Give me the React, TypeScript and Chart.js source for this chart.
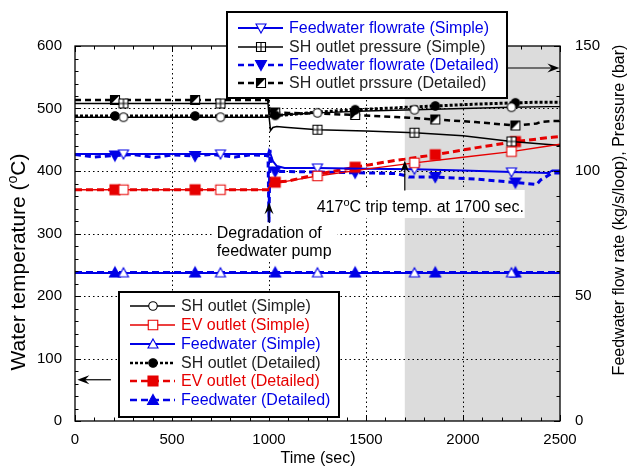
import React, { useEffect, useRef } from "react";
import { Chart, registerables } from "chart.js";

Chart.register(...registerables);

const FONT = '"Liberation Sans", Arial, Helvetica, sans-serif';
const BLUE = "#0000e6";
const RED = "#e60000";
const BLACK = "#000000";

// ---- axis ticks ----
const timeTicks = [0, 500, 1000, 1500, 2000, 2500];
const tempTicks = [0, 100, 200, 300, 400, 500, 600];
const rightTicks = [0, 50, 100, 150];
const shadeRange = [1700, 2500];

// ---- Simple model ----
const timeSimple = [0, 250, 500, 750, 995, 1000, 1008, 1020, 1040, 1080, 1250, 1500, 1750, 2000, 2250, 2440, 2460, 2500];
const shOutletSimple = [486, 486, 486, 486, 486, 487, 488, 489, 490, 490, 493, 496, 498, 500, 502, 503, 503, 503];
const evOutletSimple = [370, 370, 370, 370, 370, 374, 377, 379, 381, 383, 392, 403, 413, 422, 431, 440, 441, 443];
const feedwaterSimple = [237, 237, 237, 237, 237, 237, 237, 237, 237, 237, 237, 237, 237, 237, 237, 237, 237, 237];
const flowSimple = [106.8, 106.8, 106.8, 106.8, 106.8, 108.2, 106.8, 104, 102, 101.2, 101.2, 100.9, 100.7, 100.2, 99.6, 99.2, 100.2, 100.2];
const pressSimple = [127, 127, 127, 127, 127, 122, 116.2, 117.4, 117.8, 117.5, 116.5, 116, 115.3, 114.1, 111.8, 110.6, 110.5, 110.3];
const markTimesSimple = [250, 750, 1250, 1750, 2250];

// ---- Detailed model ----
const timeDetailed = [0, 100, 206, 300, 413, 500, 619, 700, 826, 900, 995, 1000, 1005, 1015, 1032, 1100, 1238, 1444, 1651, 1700, 1720, 1857, 2063, 2270, 2380, 2400, 2460, 2500];
const shOutletDetailed = [488, 488, 488, 488, 488, 488, 488, 488, 488, 488, 488, 488, 488, 488, 489, 490, 494, 498, 501, 502, 502, 504, 507, 509, 510, 510, 510, 510];
const evOutletDetailed = [370, 370, 370, 370, 370, 370, 370, 370, 370, 370, 370, 372, 378, 381, 382, 384, 394, 406, 417, 419, 420, 426, 437, 447, 451, 452, 454, 455];
const feedwaterDetailed = [237.5, 237.5, 237.5, 237.5, 237.5, 237.5, 237.5, 237.5, 237.5, 237.5, 237.5, 237.5, 237.5, 237.5, 237.5, 237.5, 237.5, 237.5, 237.5, 237.5, 237.5, 237.5, 237.5, 237.5, 237.5, 237.5, 237.5, 237.5];
const flowDetailed = [106.6, 105.6, 106.2, 106.6, 105.4, 106.4, 106, 106.6, 105.6, 106.4, 106.2, 79.5, 108.4, 101, 99.8, 99.8, 99.6, 99.3, 99, 98.2, 97.6, 97.6, 96.8, 95.4, 94.6, 96.4, 99.2, 99.2];
const pressDetailed = [128.4, 128.4, 128.4, 128.4, 128.4, 128.4, 128.4, 128.4, 128.4, 128.4, 128.4, 126, 123.4, 123.4, 123.4, 123.2, 123, 122.4, 121.6, 121.4, 121.3, 120.6, 119.6, 118.2, 119, 119.6, 120, 120];
const markTimesDetailed = [206, 619, 1032, 1444, 1857, 2270];

function pairs(ts: number[], vs: number[]) {
  return ts.map((t, i) => ({ x: t, y: vs[i] }));
}

function makeMarker(kind: string, color: string, filled: boolean, s: number) {
  const S = 16;
  const c = document.createElement("canvas");
  c.width = S;
  c.height = S;
  const g = c.getContext("2d")!;
  const m = S / 2;
  const h = s / 2;
  g.lineWidth = 1.1;
  g.strokeStyle = color;
  g.fillStyle = filled ? color : "#ffffff";
  g.beginPath();
  if (kind === "circle") g.arc(m, m, h, 0, Math.PI * 2);
  else if (kind === "square" || kind === "squarePlus" || kind === "halfSquare") g.rect(m - h, m - h, s, s);
  else if (kind === "triUp") {
    g.moveTo(m, m - h - 0.5);
    g.lineTo(m + h + 0.5, m + h - 0.5);
    g.lineTo(m - h - 0.5, m + h - 0.5);
    g.closePath();
  } else if (kind === "triDown") {
    g.moveTo(m, m + h + 0.5);
    g.lineTo(m + h + 0.5, m - h + 0.5);
    g.lineTo(m - h - 0.5, m - h + 0.5);
    g.closePath();
  }
  g.fill();
  g.stroke();
  if (kind === "squarePlus") {
    g.beginPath();
    g.moveTo(m, m - h);
    g.lineTo(m, m + h);
    g.moveTo(m - h, m);
    g.lineTo(m + h, m);
    g.stroke();
  }
  if (kind === "halfSquare") {
    g.beginPath();
    g.moveTo(m - h, m - h);
    g.lineTo(m + h, m - h);
    g.lineTo(m - h, m + h);
    g.closePath();
    g.fillStyle = color;
    g.fill();
  }
  return c;
}

function richWidth(ctx: CanvasRenderingContext2D, parts: [string, boolean][], size: number) {
  let w = 0;
  for (const [t, sup] of parts) {
    ctx.font = `${sup ? Math.round(size * 0.68) : size}px ${FONT}`;
    w += ctx.measureText(t).width;
  }
  return w;
}
function drawRich(ctx: CanvasRenderingContext2D, parts: [string, boolean][], x: number, y: number, size: number) {
  let cx = x;
  for (const [t, sup] of parts) {
    ctx.font = `${sup ? Math.round(size * 0.68) : size}px ${FONT}`;
    ctx.fillText(t, cx, sup ? y - size * 0.38 : y);
    cx += ctx.measureText(t).width;
  }
}

function arrow(ctx: CanvasRenderingContext2D, x1: number, y1: number, x2: number, y2: number, len = 12, half = 4.5) {
  const ang = Math.atan2(y2 - y1, x2 - x1);
  ctx.beginPath();
  ctx.moveTo(x1, y1);
  ctx.lineTo(x2 - Math.cos(ang) * len * 0.6, y2 - Math.sin(ang) * len * 0.6);
  ctx.stroke();
  ctx.save();
  ctx.translate(x2, y2);
  ctx.rotate(ang);
  ctx.beginPath();
  ctx.moveTo(0, 0);
  ctx.lineTo(-len, -half);
  ctx.lineTo(-len * 0.65, 0);
  ctx.lineTo(-len, half);
  ctx.closePath();
  ctx.fill();
  ctx.restore();
}

const leftTitle: [string, boolean][] = [["Water temperature (", false], ["o", true], ["C)", false]];
const rightTitle: [string, boolean][] = [["Feedwater flow rate (kg/s/loop), Pressure (bar)", false]];
const bottomTitle: [string, boolean][] = [["Time (sec)", false]];
const tripLabel: [string, boolean][] = [["417", false], ["o", true], ["C trip temp. at 1700 sec.", false]];
const degradationLines = ["Degradation of", "feedwater pump"];

function drawLegend(ctx: CanvasRenderingContext2D, chart: any, group: string, box: number[], rows: number[], lx1: number, lx2: number, tx: number) {
  const [bx1, by1, bx2, by2] = box;
  ctx.save();
  ctx.fillStyle = "#ffffff";
  ctx.fillRect(bx1, by1, bx2 - bx1, by2 - by1);
  ctx.lineWidth = 2;
  ctx.strokeStyle = BLACK;
  ctx.strokeRect(bx1, by1, bx2 - bx1, by2 - by1);
  const items = chart.data.datasets.filter((d: any) => d.legendGroup === group);
  items.sort((a: any, b: any) => a.legendRank - b.legendRank);
  items.forEach((d: any, i: number) => {
    const y = rows[i];
    ctx.strokeStyle = d.borderColor;
    ctx.lineWidth = Math.min(d.borderWidth, 2.5);
    ctx.setLineDash(d.borderDash || []);
    ctx.beginPath();
    ctx.moveTo(lx1, y);
    ctx.lineTo(lx2, y);
    ctx.stroke();
    ctx.setLineDash([]);
    const mk = d.marker as HTMLCanvasElement;
    ctx.drawImage(mk, Math.round((lx1 + lx2) / 2 - mk.width / 2), Math.round(y - mk.height / 2));
    ctx.fillStyle = d.textColor;
    ctx.font = `16px ${FONT}`;
    ctx.textBaseline = "middle";
    ctx.textAlign = "left";
    ctx.fillText(d.label, tx, y + 1);
  });
  ctx.restore();
}

const decorPlugin = {
  id: "decor",
  beforeDatasetsDraw(chart: any) {
    const { ctx, chartArea: a, scales } = chart;
    const x = scales.x, y = scales.y;
    ctx.save();
    ctx.fillStyle = "#dcdcdc";
    const g1 = x.getPixelForValue(shadeRange[0]);
    const g2 = x.getPixelForValue(shadeRange[1]);
    ctx.fillRect(g1, a.top, g2 - g1, a.bottom - a.top);
    ctx.strokeStyle = BLACK;
    ctx.lineWidth = 1;
    ctx.setLineDash([1.5, 3]);
    for (const t of timeTicks) {
      if (t <= 0 || t >= 2500) continue;
      const px = Math.round(x.getPixelForValue(t)) + 0.5;
      ctx.beginPath();
      ctx.moveTo(px, a.top);
      ctx.lineTo(px, a.bottom);
      ctx.stroke();
    }
    for (const v of tempTicks) {
      if (v <= 0 || v >= 600) continue;
      const py = Math.round(y.getPixelForValue(v)) + 0.5;
      ctx.beginPath();
      ctx.moveTo(a.left, py);
      ctx.lineTo(a.right, py);
      ctx.stroke();
    }
    ctx.setLineDash([]);
    // white box behind trip label
    ctx.fillStyle = "#ffffff";
    const bx1 = x.getPixelForValue(1210), bx2 = x.getPixelForValue(2318);
    const by1 = y.getPixelForValue(369.6), by2 = y.getPixelForValue(324.8);
    ctx.fillRect(bx1, by1, bx2 - bx1, by2 - by1);
    ctx.fillStyle = BLACK;
    ctx.textBaseline = "alphabetic";
    ctx.textAlign = "left";
    drawRich(ctx, tripLabel, x.getPixelForValue(1246), y.getPixelForValue(334.4), 16);
    // degradation label
    ctx.font = `16px ${FONT}`;
    const tx = x.getPixelForValue(731);
    const b1 = y.getPixelForValue(292.8);
    const b2 = y.getPixelForValue(264);
    const w = Math.max(...degradationLines.map((s) => ctx.measureText(s).width));
    ctx.fillStyle = "#ffffff";
    ctx.fillRect(tx - 4, b1 - 14, w + 10, b2 - b1 + 20);
    ctx.fillStyle = BLACK;
    ctx.fillText(degradationLines[0], tx, b1);
    ctx.fillText(degradationLines[1], tx, b2);
    ctx.restore();
  },
  afterDatasetsDraw(chart: any) {
    const { ctx, chartArea: a, scales } = chart;
    const x = scales.x, y = scales.y, y2 = scales.y2;
    ctx.save();
    // frame
    ctx.strokeStyle = BLACK;
    ctx.lineWidth = 1.3;
    ctx.strokeRect(a.left, a.top, a.right - a.left, a.bottom - a.top);
    // inward ticks
    ctx.lineWidth = 1;
    ctx.beginPath();
    for (let t = 0; t <= 2500; t += 100) {
      const px = Math.round(x.getPixelForValue(t)) + 0.5;
      const L = t % 500 === 0 ? 6 : 3.5;
      ctx.moveTo(px, a.bottom);
      ctx.lineTo(px, a.bottom - L);
      ctx.moveTo(px, a.top);
      ctx.lineTo(px, a.top + L);
    }
    for (let v = 0; v <= 600; v += 20) {
      const py = Math.round(y.getPixelForValue(v)) + 0.5;
      const L = v % 100 === 0 ? 6 : 3.5;
      ctx.moveTo(a.left, py);
      ctx.lineTo(a.left + L, py);
    }
    for (let v = 0; v <= 150; v += 10) {
      const py = Math.round(y2.getPixelForValue(v)) + 0.5;
      const L = v % 50 === 0 ? 6 : 3.5;
      ctx.moveTo(a.right, py);
      ctx.lineTo(a.right - L, py);
    }
    ctx.stroke();
    // arrows
    ctx.fillStyle = BLACK;
    ctx.strokeStyle = BLACK;
    ctx.lineWidth = 1.2;
    arrow(ctx, x.getPixelForValue(1000), y.getPixelForValue(318), x.getPixelForValue(1000), y.getPixelForValue(350));
    arrow(ctx, x.getPixelForValue(1700), y.getPixelForValue(369), x.getPixelForValue(1700), y.getPixelForValue(417));
    arrow(ctx, x.getPixelForValue(185), y.getPixelForValue(66), x.getPixelForValue(12), y.getPixelForValue(66));
    arrow(ctx, x.getPixelForValue(2225), y2.getPixelForValue(141.2), x.getPixelForValue(2497), y2.getPixelForValue(141.2));
    ctx.restore();
    // legends
    drawLegend(ctx, chart, "top", [227, 12, 507, 98], [28, 47, 65, 83], 238, 283, 289);
    drawLegend(ctx, chart, "bottom", [119, 292, 339, 417], [306, 325, 344, 363, 381, 400], 130, 175, 181);
  },
  afterDraw(chart: any) {
    const { ctx } = chart;
    ctx.save();
    ctx.fillStyle = BLACK;
    ctx.textBaseline = "alphabetic";
    ctx.textAlign = "left";
    // bottom title
    let w = richWidth(ctx, bottomTitle, 16);
    drawRich(ctx, bottomTitle, 318 - w / 2, 463, 16);
    // left title
    ctx.save();
    ctx.translate(25, 262);
    ctx.rotate(-Math.PI / 2);
    w = richWidth(ctx, leftTitle, 21);
    drawRich(ctx, leftTitle, -w / 2, 0, 21);
    ctx.restore();
    // right title
    ctx.save();
    ctx.translate(624, 210);
    ctx.rotate(-Math.PI / 2);
    w = richWidth(ctx, rightTitle, 16);
    drawRich(ctx, rightTitle, -w / 2, 0, 16);
    ctx.restore();
    ctx.restore();
  },
};

export default function App() {
  const ref = useRef<HTMLCanvasElement | null>(null);
  useEffect(() => {
    if (!ref.current) return;
    const simpleSet = new Set(markTimesSimple);
    const detailedSet = new Set(markTimesDetailed);
    const radiusFor = (set: Set<number>) => (c: any) => (c.raw && set.has(c.raw.x) ? 5 : 0);

    const mk = (opts: any) => ({
      showLine: true,
      fill: false,
      tension: 0,
      pointHoverRadius: 0,
      ...opts,
      pointStyle: opts.marker,
    });

    const datasets = [
      mk({ label: "SH outlet (Simple)", legendGroup: "bottom", legendRank: 0, textColor: "#222", yAxisID: "y",
        data: pairs(timeSimple, shOutletSimple), borderColor: BLACK, borderWidth: 1.3,
        marker: makeMarker("circle", BLACK, false, 8.5), pointRadius: radiusFor(simpleSet) }),
      mk({ label: "EV outlet (Simple)", legendGroup: "bottom", legendRank: 1, textColor: RED, yAxisID: "y",
        data: pairs(timeSimple, evOutletSimple), borderColor: RED, borderWidth: 1.5,
        marker: makeMarker("square", RED, false, 9.5), pointRadius: radiusFor(simpleSet) }),
      mk({ label: "Feedwater (Simple)", legendGroup: "bottom", legendRank: 2, textColor: BLUE, yAxisID: "y",
        data: pairs(timeSimple, feedwaterSimple), borderColor: BLUE, borderWidth: 2,
        marker: makeMarker("triUp", BLUE, false, 9), pointRadius: radiusFor(simpleSet) }),
      mk({ label: "Feedwater flowrate (Simple)", legendGroup: "top", legendRank: 0, textColor: BLUE, yAxisID: "y2",
        data: pairs(timeSimple, flowSimple), borderColor: BLUE, borderWidth: 2,
        marker: makeMarker("triDown", BLUE, false, 9), pointRadius: radiusFor(simpleSet) }),
      mk({ label: "SH outlet pressure (Simple)", legendGroup: "top", legendRank: 1, textColor: "#222", yAxisID: "y2",
        data: pairs(timeSimple, pressSimple), borderColor: BLACK, borderWidth: 1.5,
        marker: makeMarker("squarePlus", BLACK, false, 9), pointRadius: radiusFor(simpleSet) }),
      mk({ label: "SH outlet (Detailed)", legendGroup: "bottom", legendRank: 3, textColor: "#222", yAxisID: "y",
        data: pairs(timeDetailed, shOutletDetailed), borderColor: BLACK, borderWidth: 3, borderDash: [3, 2],
        marker: makeMarker("circle", BLACK, true, 8.5), pointRadius: radiusFor(detailedSet) }),
      mk({ label: "EV outlet (Detailed)", legendGroup: "bottom", legendRank: 4, textColor: RED, yAxisID: "y",
        data: pairs(timeDetailed, evOutletDetailed), borderColor: RED, borderWidth: 3, borderDash: [7, 4],
        marker: makeMarker("square", RED, true, 10), pointRadius: radiusFor(detailedSet) }),
      mk({ label: "Feedwater (Detailed)", legendGroup: "bottom", legendRank: 5, textColor: BLUE, yAxisID: "y",
        data: pairs(timeDetailed, feedwaterDetailed), borderColor: BLUE, borderWidth: 3, borderDash: [7, 4],
        marker: makeMarker("triUp", BLUE, true, 10), pointRadius: radiusFor(detailedSet) }),
      mk({ label: "Feedwater flowrate (Detailed)", legendGroup: "top", legendRank: 2, textColor: BLUE, yAxisID: "y2",
        data: pairs(timeDetailed, flowDetailed), borderColor: BLUE, borderWidth: 3, borderDash: [6, 4],
        marker: makeMarker("triDown", BLUE, true, 10), pointRadius: radiusFor(detailedSet) }),
      mk({ label: "SH outlet prssure (Detailed)", legendGroup: "top", legendRank: 3, textColor: "#222", yAxisID: "y2",
        data: pairs(timeDetailed, pressDetailed), borderColor: BLACK, borderWidth: 2.5, borderDash: [6, 4],
        marker: makeMarker("halfSquare", BLACK, false, 9), pointRadius: radiusFor(detailedSet) }),
    ];

    const tickFont = { family: FONT, size: 15 };
    const chart = new Chart(ref.current, {
      type: "scatter",
      data: { datasets: datasets as any },
      plugins: [decorPlugin],
      options: {
        responsive: false,
        animation: false,
        devicePixelRatio: 1,
        events: [],
        layout: { padding: { top: 46, left: 0, right: 0, bottom: 0 } },
        plugins: { legend: { display: false }, tooltip: { enabled: false }, title: { display: false } },
        scales: {
          x: {
            type: "linear", position: "bottom", min: 0, max: 2500,
            afterBuildTicks: (s: any) => { s.ticks = timeTicks.map((v) => ({ value: v })); },
            afterFit: (s: any) => { s.height = 47; },
            ticks: { font: tickFont, color: BLACK, padding: 10, maxRotation: 0, autoSkip: false, callback: (v: any) => String(v) },
            grid: { display: false, drawTicks: false },
            border: { display: false },
          },
          y: {
            type: "linear", position: "left", min: 0, max: 600,
            afterBuildTicks: (s: any) => { s.ticks = tempTicks.map((v) => ({ value: v })); },
            afterFit: (s: any) => { s.width = 75; },
            ticks: { font: tickFont, color: BLACK, padding: 13, autoSkip: false, callback: (v: any) => String(v) },
            grid: { display: false, drawTicks: false },
            border: { display: false },
          },
          y2: {
            type: "linear", position: "right", min: 0, max: 150,
            afterBuildTicks: (s: any) => { s.ticks = rightTicks.map((v) => ({ value: v })); },
            afterFit: (s: any) => { s.width = 67; },
            ticks: { font: tickFont, color: BLACK, padding: 15, autoSkip: false, callback: (v: any) => String(v) },
            grid: { display: false, drawTicks: false },
            border: { display: false },
          },
        },
      } as any,
    });
    return () => chart.destroy();
  }, []);

  return (
    <>
      <style>{"body{margin:0}"}</style>
      <canvas ref={ref} width={627} height={468} style={{ display: "block" }} />
    </>
  );
}
